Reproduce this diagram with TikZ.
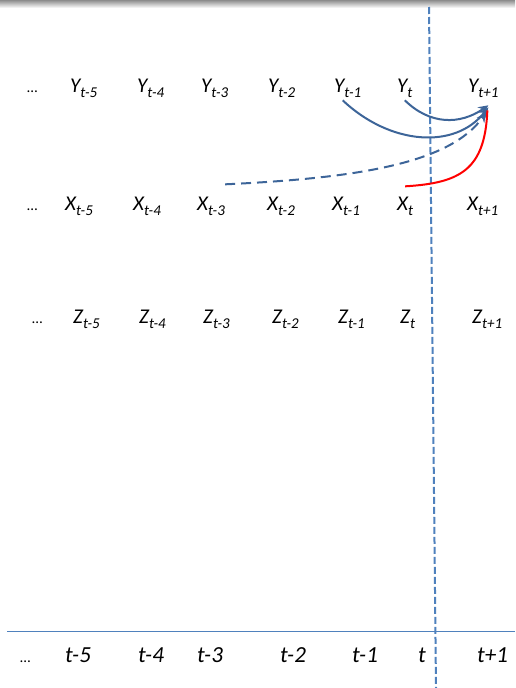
\documentclass[tikz,border=0pt]{standalone}
\usepackage{fontspec}
\setmainfont{Carlito}
\usetikzlibrary{positioning, arrows.meta}
\definecolor{slideblue}{RGB}{79,129,189}
\definecolor{arrowblue}{RGB}{61,101,153}
\newcommand{\tsub}[2]{#1\raisebox{-5pt}{\fontsize{15}{15}\selectfont #2}}

\begin{document}
\begin{tikzpicture}[x=1pt, y=-1pt,
  lbl/.style={font=\fontsize{21}{25}\selectfont\itshape, anchor=base west, inner sep=0pt},
  tlbl/.style={font=\fontsize{23}{27}\selectfont\itshape, anchor=base west, inner sep=0pt},
  conn/.style={arrowblue, line width=2pt, -{Stealth[length=10pt, width=9pt]}}]
  \useasboundingbox (0,0) rectangle (515,688);
  \fill[white] (0,0) rectangle (515,688);
  \shade[top color=gray!90, bottom color=white] (0,0) rectangle (515,8);

  % Y row
  \node[lbl] (ydots) at (27,92) {\upshape\fontsize{15}{15}\selectfont …};
  \node[lbl] (yt5) at (70,92) {\tsub{Y}{t-5}};
  \node[lbl] (yt4) at (137,92) {\tsub{Y}{t-4}};
  \node[lbl] (yt3) at (201,92) {\tsub{Y}{t-3}};
  \node[lbl] (yt2) at (268,92) {\tsub{Y}{t-2}};
  \node[lbl] (yt1) at (334,92) {\tsub{Y}{t-1}};
  \node[lbl] (yt) at (397,92) {\tsub{Y}{t}};
  \node[lbl] (ytn) at (468,92) {\tsub{Y}{t+1}};

  % X row
  \node[lbl] (xdots) at (27,210) {\upshape\fontsize{15}{15}\selectfont …};
  \node[lbl] (xt5) at (65,210) {\tsub{X}{t-5}};
  \node[lbl] (xt4) at (133,210) {\tsub{X}{t-4}};
  \node[lbl] (xt3) at (197,210) {\tsub{X}{t-3}};
  \node[lbl] (xt2) at (267,210) {\tsub{X}{t-2}};
  \node[lbl] (xt1) at (332,210) {\tsub{X}{t-1}};
  \node[lbl] (xt) at (397,210) {\tsub{X}{t}};
  \node[lbl] (xtn) at (467,210) {\tsub{X}{t+1}};

  % Z row
  \node[lbl] (zdots) at (32,323) {\upshape\fontsize{15}{15}\selectfont …};
  \node[lbl] (zt5) at (73,323) {\tsub{Z}{t-5}};
  \node[lbl] (zt4) at (139,323) {\tsub{Z}{t-4}};
  \node[lbl] (zt3) at (203,323) {\tsub{Z}{t-3}};
  \node[lbl] (zt2) at (272,323) {\tsub{Z}{t-2}};
  \node[lbl] (zt1) at (338,323) {\tsub{Z}{t-1}};
  \node[lbl] (zt) at (400,323) {\tsub{Z}{t}};
  \node[lbl] (ztn) at (472,323) {\tsub{Z}{t+1}};

  % time axis
  \draw[slideblue, line width=1pt] (7,631) -- (515,631);
  \node[tlbl] (tdots) at (20,662) {\upshape\fontsize{15}{15}\selectfont …};
  \node[tlbl] (t5) at (65,662) {t-5};
  \node[tlbl] (t4) at (138,662) {t-4};
  \node[tlbl] (t3) at (197,662) {t-3};
  \node[tlbl] (t2) at (280,662) {t-2};
  \node[tlbl] (t1) at (352,662) {t-1};
  \node[tlbl] (t0) at (418,662) {t};
  \node[tlbl] (tn) at (477,662) {t+1};

  % present
  \draw[slideblue, line width=2pt, dash pattern=on 7pt off 3pt] (429,7) -- (436,688);

  % influences on Y(t+1)
  \draw[conn] ([xshift=-5, yshift=-3]yt1.south) .. controls (390,145) and (455,150) .. ([xshift=5, yshift=-10]ytn.south);
  \draw[conn] ([xshift=0, yshift=-3]yt.south) .. controls (430,125) and (460,125) .. ([xshift=5, yshift=-8]ytn.south);
  \draw[conn, dash pattern=on 10pt off 6pt] ([yshift=12]xt3.north east) .. controls (360,178) and (450,163) .. ([xshift=3, yshift=-15]ytn.south);
  \draw[red, line width=2pt] ([yshift=10]xt.north) .. controls (460,183) and (485,170) .. ([xshift=4, yshift=-13]ytn.south);
\end{tikzpicture}
\end{document}
